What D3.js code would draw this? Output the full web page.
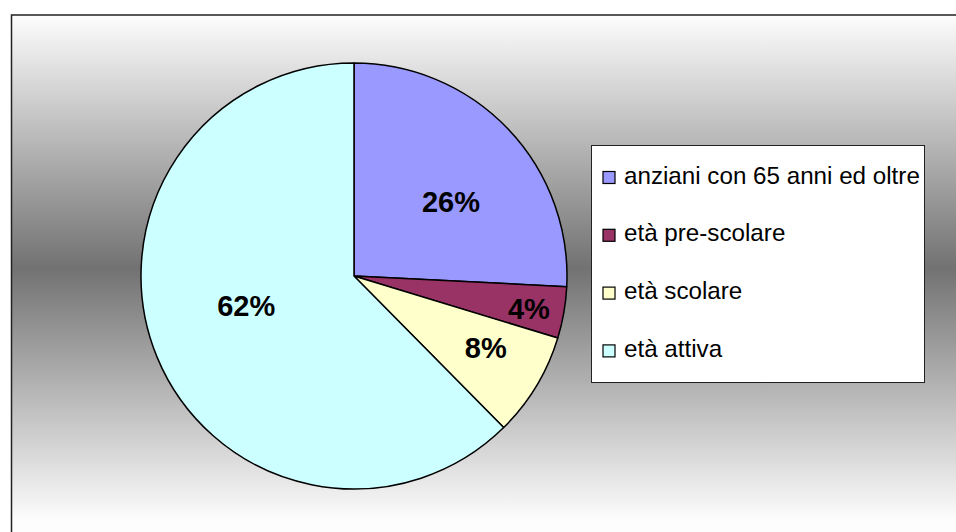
<!DOCTYPE html>
<html>
<head>
<meta charset="utf-8">
<script src="https://cdn.jsdelivr.net/npm/d3@7"></script>
<style>
  html, body { margin: 0; padding: 0; background: #fff; }
  svg { display: block; }
</style>
</head>
<body>
<div id="root"></div>
<script>
const categories = ['anziani con 65 anni ed oltre', 'età pre-scolare', 'età scolare', 'età attiva'];
const shares = [25.8, 3.9, 7.9, 62.4];
const colours = ['#9999FF', '#993366', '#FFFFCC', '#CCFFFF'];

// label placement: fraction of radius, angle nudge in degrees
const labelRadius = [0.575, 0.835, 0.705, 0.525];
const labelNudge = [5.9, 0.5, -2.5, 6.8];

const width = 956;
const height = 532;
const cx = 354;
const cy = 276;
const radius = 213;
const font = '"Liberation Sans", Arial, sans-serif';

const svg = d3.select('#root')
  .append('svg')
  .attr('width', width)
  .attr('height', height);

const grad = svg.append('defs')
  .append('linearGradient')
  .attr('id', 'bg')
  .attr('gradientUnits', 'userSpaceOnUse')
  .attr('x1', 0).attr('x2', 0)
  .attr('y1', 15).attr('y2', 521);
grad.append('stop').attr('offset', 0).attr('stop-color', '#fdfdfd');
grad.append('stop').attr('offset', 0.5).attr('stop-color', '#727272');
grad.append('stop').attr('offset', 1).attr('stop-color', '#fdfdfd');

// chart frame, runs past the right and bottom edges
svg.append('rect')
  .attr('x', 11.5)
  .attr('y', 15)
  .attr('width', 980)
  .attr('height', 560)
  .attr('fill', 'url(#bg)')
  .attr('stroke', '#222')
  .attr('stroke-width', 1.5);

const pie = d3.pie().sort(null).value((d) => d);
const arcs = pie(shares);
const arc = d3.arc().innerRadius(0).outerRadius(radius);
const total = d3.sum(shares);

const g = svg.append('g').attr('transform', `translate(${cx},${cy})`);

g.selectAll('path')
  .data(arcs)
  .enter()
  .append('path')
  .attr('d', arc)
  .attr('fill', (_d, i) => colours[i])
  .attr('stroke', '#000')
  .attr('stroke-width', 1.5)
  .attr('stroke-linejoin', 'round');

function labelAngle(d, i) {
  return (d.startAngle + d.endAngle) / 2 + labelNudge[i] * Math.PI / 180;
}

g.selectAll('.pct')
  .data(arcs)
  .enter()
  .append('text')
  .attr('class', 'pct')
  .attr('x', (d, i) => Math.sin(labelAngle(d, i)) * radius * labelRadius[i])
  .attr('y', (d, i) => -Math.cos(labelAngle(d, i)) * radius * labelRadius[i])
  .attr('dy', '0.36em')
  .attr('text-anchor', 'middle')
  .attr('font-family', font)
  .attr('font-weight', 'bold')
  .attr('font-size', '29px')
  .attr('fill', '#000')
  .text((d) => `${Math.round(d.data / total * 100)}%`);

// legend
const legendX = 591.5;
const legendY = 145.5;
const rowGap = 57.8;

svg.append('rect')
  .attr('x', legendX)
  .attr('y', legendY)
  .attr('width', 333)
  .attr('height', 237)
  .attr('fill', '#fff')
  .attr('stroke', '#222')
  .attr('stroke-width', 1);

const rows = svg.selectAll('.legend-row')
  .data(categories)
  .enter()
  .append('g')
  .attr('class', 'legend-row')
  .attr('transform', (_d, i) => `translate(${legendX}, ${legendY + 38 + i * rowGap})`);

rows.append('rect')
  .attr('x', 11.5)
  .attr('y', -12)
  .attr('width', 12)
  .attr('height', 12)
  .attr('fill', (_d, i) => colours[i])
  .attr('stroke', '#000')
  .attr('stroke-width', 1.2);

rows.append('text')
  .attr('x', 32.5)
  .attr('y', 0)
  .attr('font-family', font)
  .attr('font-size', '24.2px')
  .attr('fill', '#000')
  .text((d) => d);
</script>
</body>
</html>
